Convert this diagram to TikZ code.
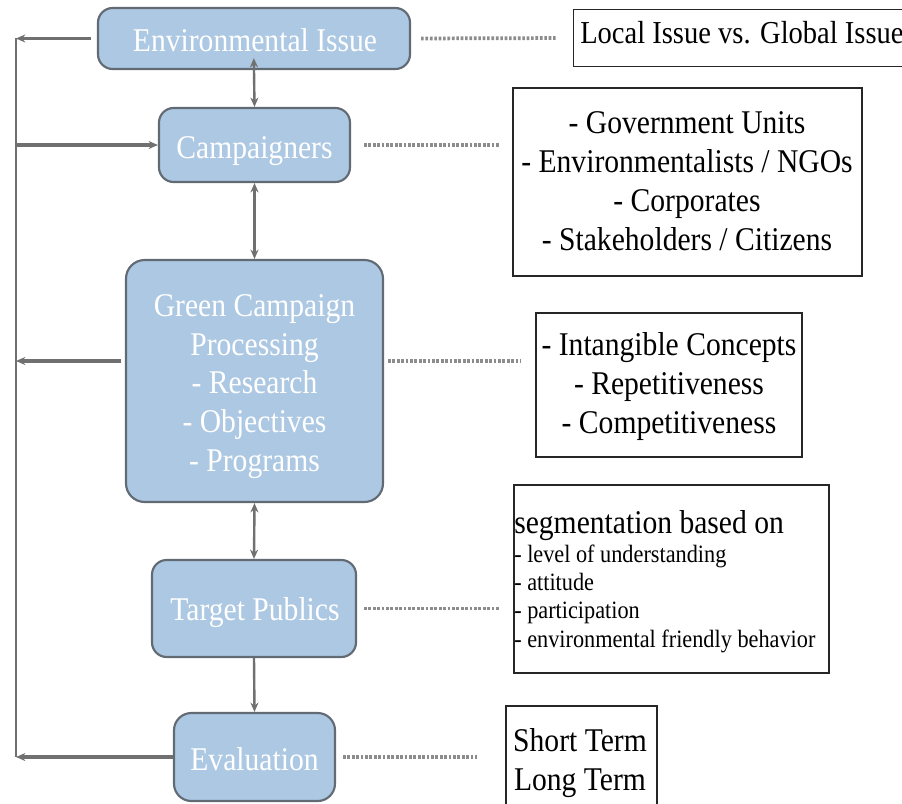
\documentclass[tikz,border=0pt]{standalone}
\usepackage{fontspec}
\setmainfont{Liberation Serif}
\usetikzlibrary{arrows.meta}

\definecolor{boxfill}{RGB}{173,200,227}
\definecolor{boxline}{RGB}{98,106,116}
\definecolor{linkgray}{RGB}{112,112,112}
\definecolor{dotgray}{RGB}{140,140,140}

\newcommand\mainsz{\fontsize{22.2pt}{26.05pt}\selectfont}
\newcommand\subsz{\fontsize{16.7pt}{18.95pt}\selectfont}

\tikzset{
  stage/.style={draw=boxline, line width=1.6pt, fill=boxfill, rounded corners=11pt, inner sep=0pt},
  note/.style={draw=black!85, line width=1pt, fill=white, inner sep=0pt},
  words/.style={inner sep=0pt, yscale=1.12, align=center, font=\mainsz, anchor=base},
  stagewords/.style={words, text=white},
  tip/.tip={Stealth[length=7pt,width=6pt]},
  link/.style={draw=linkgray, line width=1.8pt, tip-tip},
  oneway/.style={draw=linkgray, line width=1.8pt, -tip},
  feed/.style={draw=linkgray, line width=2.5pt, -tip},
  frame/.style={draw=linkgray, line width=2pt},
  dots/.style={draw=dotgray, line width=2.8pt, dash pattern=on 2pt off 1.3pt},
}

\begin{document}
\begin{tikzpicture}[x=0.75pt, y=-0.75pt]
\useasboundingbox (0,0) rectangle (902,803);
\fill[white] (0,0) rectangle (902,803);

% process stages
\node[stage, minimum width=234pt, minimum height=45.75pt] (env) at (254,38.5) {};
\node[stage, minimum width=143.25pt, minimum height=55.5pt] (camp) at (254.5,145) {};
\node[stage, minimum width=192.75pt, minimum height=181.5pt, rounded corners=14pt] (gcp) at (254.5,381) {};
\node[stage, minimum width=153pt, minimum height=72.75pt] (tp) at (254,608.5) {};
\node[stage, minimum width=120.75pt, minimum height=66pt, rounded corners=13pt] (ev) at (254.5,757) {};
\coordinate (gcpL) at ([yshift=15pt]gcp.west);
\coordinate (gcpR) at ([yshift=15pt]gcp.east);

\node[stagewords] (envt) at (255,51.7) {Environmental Issue};
\node[stagewords] (campt) at (254.5,158.3) {Campaigners};
\node[stagewords] (gcpt) at (254.5,471.7)
  {Green Campaign\\Processing\\- Research\\- Objectives\\- Programs};
\node[stagewords] (tpt) at (255,620.7) {Target Publics};
\node[stagewords] (evt) at (254.5,770) {Evaluation};

% side notes
\node[note, anchor=west, minimum width=260pt, minimum height=43.1pt] (local) at (573,38) {};
\node[note, minimum width=261.75pt, minimum height=141pt] (who) at (687.5,182) {};
\node[note, minimum width=199.5pt, minimum height=108pt] (traits) at (669,385) {};
\node[note, minimum width=236.25pt, minimum height=141pt] (seg) at (671.5,579) {};
\node[note, minimum width=113.25pt, minimum height=81.75pt] (term) at (581.5,760.5) {};

\node[words, anchor=base west, font=\fontsize{21.4pt}{26pt}\selectfont] (localt) at (580,43.5)
  {Local Issue vs. Global Issue};
\node[words] (whot) at (687,250.5)
  {- Government Units\\- Environmentalists / NGOs\\- Corporates\\- Stakeholders / Citizens};
\node[words] (traitst) at (669,433.5)
  {- Intangible Concepts\\- Repetitiveness\\- Competitiveness};
\node[words, anchor=base west] (seghead) at (514,533) {segmentation based on};
\node[words, anchor=base west, font=\subsz, align=left] (segitems) at (514,647)
  {- level of understanding\\- attitude\\- participation\\- environmental friendly behavior};
\node[words] (termt) at (580,790) {Short Term\\Long Term};

% feedback frame on the left
\coordinate (ftop) at (16,38);
\coordinate (fbot) at (16,757);
\draw[frame] (ftop) -- (fbot);
\draw[feed, shorten <=4.5pt] (env.west) -- (env.west -| ftop);
\draw[feed] (camp.west -| ftop) -- (camp.west);
\draw[feed, shorten <=3pt] (gcpL) -- (gcpL -| ftop);
\draw[feed] (ev.west) -- (ev.west -| ftop);

% links between stages
\draw[link, shorten <=-9pt] (env.south) -- (camp.north);
\draw[link] (camp.south) -- (gcp.north);
\draw[link] (gcp.south) -- (tp.north);
\draw[oneway] (tp.south) -- (ev.north);

% dotted leaders to the notes
\draw[dots, shorten <=7.5pt, shorten >=12pt] (env.east) -- (local.west);
\draw[dots, shorten <=9.75pt, shorten >=9.75pt] (camp.east) -- (who.west |- camp.east);
\draw[dots, shorten <=3pt, shorten >=10.5pt] (gcpR) -- (traits.west |- gcpR);
\draw[dots, shorten <=5.25pt, shorten >=10.5pt] (tp.east) -- (seg.west |- tp.east);
\draw[dots, shorten <=5.25pt, shorten >=21pt] (ev.east) -- (term.west |- ev.east);
\end{tikzpicture}
\end{document}
